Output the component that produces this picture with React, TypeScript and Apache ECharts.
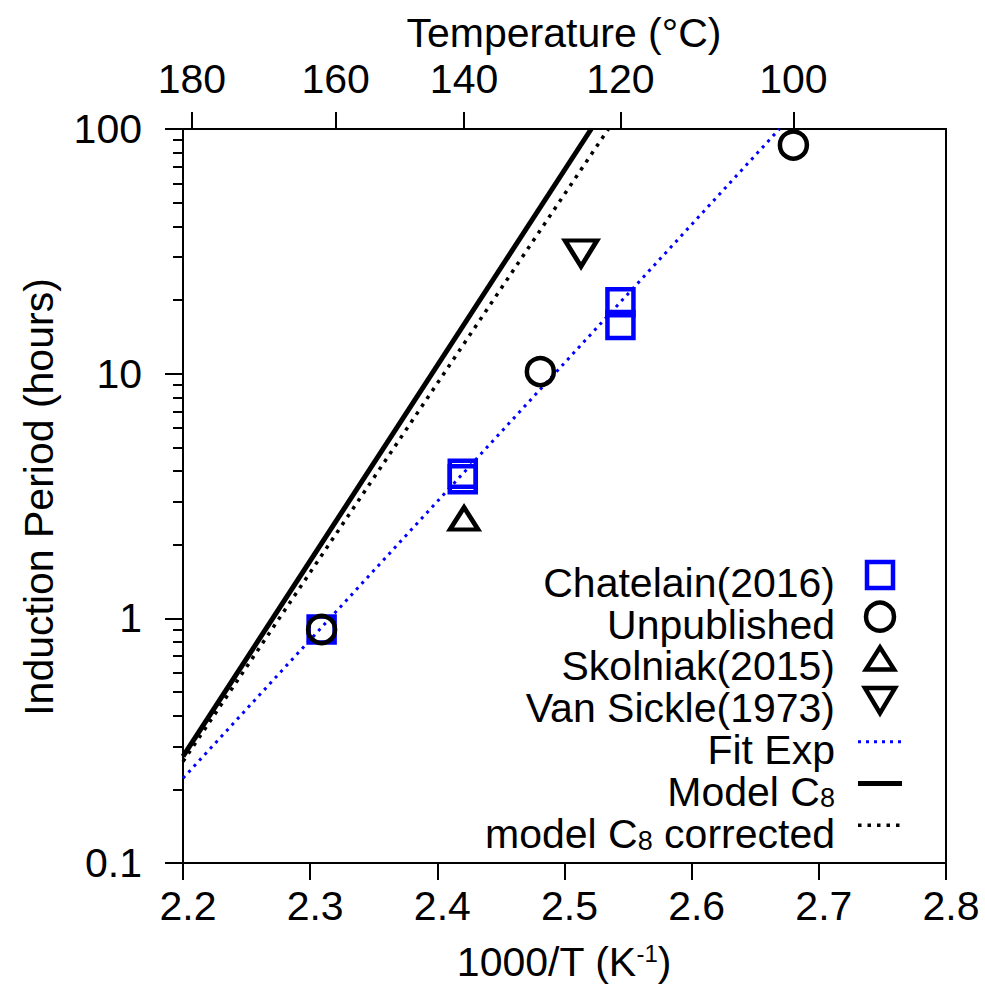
import React, { useEffect, useRef } from "react";
import * as echarts from "echarts";

const FONT = '"Liberation Sans", Arial, Helvetica, sans-serif';
const FS = 41;
const BLUE = "#0000ff";
const BLACK = "#000000";

// Bottom axis: 1000/T in K^-1
const xMin = 2.2;
const xMax = 2.8;
const xStep = 0.1;

// Top axis: temperature in °C and where each tick sits on the 1000/T scale
const tempLabels = [180, 160, 140, 120, 100];
const tempTickPositions = [2.207, 2.32, 2.421, 2.544, 2.68];

// Log axis: decades and the 2..9 minor ticks between them
const yMin = 0.1;
const yMax = 100;
const minorYTicks = [
  0.2, 0.3, 0.4, 0.5, 0.6, 0.7, 0.8, 0.9,
  2, 3, 4, 5, 6, 7, 8, 9,
  20, 30, 40, 50, 60, 70, 80, 90,
];

// Measured induction periods [1000/T, hours]
const chatelain2016 = [
  [2.309, 0.9],
  [2.42, 3.9],
  [2.42, 3.7],
  [2.544, 19.6],
  [2.544, 15.8],
];
const unpublished = [
  [2.309, 0.9],
  [2.481, 10.2],
  [2.68, 86],
];
const skolniak2015 = [[2.421, 2.56]];
const vanSickle1973 = [[2.513, 31]];

// Fitted and modelled Arrhenius lines (end points)
const fitExp = [
  [2.2, 0.222],
  [2.669, 100],
];
const modelC8 = [
  [2.2, 0.273],
  [2.521, 100],
];
const modelC8Corrected = [
  [2.2, 0.26],
  [2.5345, 100],
];

const legendLabels = [
  "Chatelain(2016)",
  "Unpublished",
  "Skolniak(2015)",
  "Van Sickle(1973)",
  "Fit Exp",
  "{t|Model C}{sub|8}",
  "{t|model C}{sub|8}{t| corrected}",
];

function legendGraphics() {
  const textRight = 835;
  const symX = 880;
  const rowTop = 575;
  const rowGap = 41.7;
  const rich = {
    t: { fontSize: FS, lineHeight: 40, fontFamily: FONT, fill: BLACK },
    sub: { fontSize: 27, lineHeight: 20, fontFamily: FONT, fill: BLACK, padding: [13, 0, 0, 0] },
  };
  const items: any[] = [];
  legendLabels.forEach((label, i) => {
    const cy = rowTop + rowGap * i;
    items.push({
      type: "text",
      x: textRight,
      y: cy + 8 + (i === 6 ? 1 : 0),
      style: {
        text: label.includes("{") ? label : `{t|${label}}`,
        rich,
        align: "right",
        verticalAlign: "middle",
      },
    });
    let sym: any;
    if (i === 0) {
      sym = {
        type: "rect",
        shape: { x: symX - 13, y: cy - 13, width: 26, height: 26 },
        style: { fill: "none", stroke: BLUE, lineWidth: 4.5 },
      };
    } else if (i === 1) {
      sym = {
        type: "circle",
        shape: { cx: symX, cy, r: 14 },
        style: { fill: "none", stroke: BLACK, lineWidth: 4.5 },
      };
    } else if (i === 2) {
      sym = {
        type: "polygon",
        shape: { points: [[symX, cy - 11], [symX + 14, cy + 11], [symX - 14, cy + 11]] },
        style: { fill: "none", stroke: BLACK, lineWidth: 4.5 },
      };
    } else if (i === 3) {
      sym = {
        type: "polygon",
        shape: { points: [[symX - 15, cy - 12], [symX + 15, cy - 12], [symX, cy + 13]] },
        style: { fill: "none", stroke: BLACK, lineWidth: 4.5 },
      };
    } else {
      const styles = [
        { stroke: BLUE, lineWidth: 3, lineDash: [3, 5] },
        { stroke: BLACK, lineWidth: 5 },
        { stroke: BLACK, lineWidth: 3.5, lineDash: [3.5, 6] },
      ];
      sym = {
        type: "line",
        shape: { x1: 858, y1: cy, x2: 902, y2: cy },
        style: styles[i - 4],
      };
    }
    items.push(sym);
  });
  return items;
}

export default function App() {
  const ref = useRef<HTMLDivElement>(null);

  useEffect(() => {
    if (!ref.current) return;
    const chart = echarts.init(ref.current, null, { renderer: "svg" });

    const labelStyle = { fontSize: FS, fontFamily: FONT, color: BLACK };
    const hollow = (color: string) => ({
      color: "transparent",
      borderColor: color,
      borderWidth: 4.5,
      opacity: 1,
    });

    chart.setOption({
      animation: false,
      backgroundColor: "#ffffff",
      grid: {
        left: 183,
        right: 39,
        top: 129,
        bottom: 121,
        show: true,
        borderColor: BLACK,
        borderWidth: 2,
        backgroundColor: "transparent",
        containLabel: false,
      },
      xAxis: [
        {
          type: "value",
          position: "bottom",
          min: xMin,
          max: xMax,
          interval: xStep,
          axisLine: { show: true, lineStyle: { color: BLACK, width: 2 } },
          axisTick: { show: true, inside: false, length: 17, lineStyle: { color: BLACK, width: 2 } },
          axisLabel: {
            ...labelStyle,
            margin: 22,
            padding: [0, 0, 0, 10],
            formatter: (v: number) => v.toFixed(1),
          },
          splitLine: { show: false },
        },
        {
          type: "value",
          position: "top",
          min: xMin,
          max: xMax,
          axisLine: { show: true, lineStyle: { color: BLACK, width: 2 } },
          axisTick: {
            show: true,
            inside: false,
            length: 17,
            customValues: tempTickPositions,
            lineStyle: { color: BLACK, width: 2 },
          },
          axisLabel: {
            ...labelStyle,
            margin: 30,
            customValues: tempTickPositions,
            formatter: (v: number) => {
              const i = tempTickPositions.findIndex((p) => Math.abs(p - v) < 1e-6);
              return i >= 0 ? String(tempLabels[i]) : "";
            },
          },
          splitLine: { show: false },
        },
      ],
      yAxis: [
        {
          type: "log",
          logBase: 10,
          position: "left",
          min: yMin,
          max: yMax,
          axisLine: { show: true, lineStyle: { color: BLACK, width: 2 } },
          axisTick: { show: true, inside: false, length: 18, lineStyle: { color: BLACK, width: 2 } },
          axisLabel: {
            ...labelStyle,
            margin: 41,
            padding: [16, 0, 0, 0],
            formatter: (v: number) => (v < 1 ? v.toFixed(1) : String(Math.round(v))),
          },
          splitLine: { show: false },
        },
        {
          type: "log",
          logBase: 10,
          position: "left",
          min: yMin,
          max: yMax,
          axisLine: { show: false },
          axisTick: {
            show: true,
            inside: false,
            length: 10,
            customValues: minorYTicks,
            lineStyle: { color: BLACK, width: 2 },
          },
          axisLabel: { show: false },
          splitLine: { show: false },
        },
      ],
      graphic: [
        {
          type: "text",
          x: 564,
          y: 33,
          style: {
            text: "Temperature (°C)",
            fontSize: FS,
            fontFamily: FONT,
            fill: BLACK,
            align: "center",
            verticalAlign: "middle",
          },
        },
        {
          type: "text",
          x: 564,
          y: 962,
          style: {
            text: "{t|1000/T (K}{sup|-1}{t|)}",
            rich: {
              t: { fontSize: FS, lineHeight: 38, fontFamily: FONT, fill: BLACK },
              sup: { fontSize: 24, lineHeight: 20, fontFamily: FONT, fill: BLACK, padding: [0, 0, 17, 0] },
            },
            align: "center",
            verticalAlign: "middle",
          },
        },
        {
          type: "text",
          x: 39,
          y: 497,
          rotation: Math.PI / 2,
          style: {
            text: "Induction Period (hours)",
            fontSize: FS,
            fontFamily: FONT,
            fill: BLACK,
            align: "center",
            verticalAlign: "middle",
          },
        },
        ...legendGraphics(),
      ],
      series: [
        {
          name: "Fit Exp",
          type: "line",
          data: fitExp,
          showSymbol: false,
          symbol: "none",
          lineStyle: { color: BLUE, width: 3, type: [3, 5] },
          z: 2,
        },
        {
          name: "Model C8",
          type: "line",
          data: modelC8,
          showSymbol: false,
          symbol: "none",
          lineStyle: { color: BLACK, width: 5 },
          z: 2,
        },
        {
          name: "model C8 corrected",
          type: "line",
          data: modelC8Corrected,
          showSymbol: false,
          symbol: "none",
          lineStyle: { color: BLACK, width: 3.5, type: [3.5, 6] },
          z: 2,
        },
        {
          name: "Chatelain(2016)",
          type: "scatter",
          data: chatelain2016,
          symbol: "rect",
          symbolSize: 26,
          itemStyle: hollow(BLUE),
          z: 3,
        },
        {
          name: "Unpublished",
          type: "scatter",
          data: unpublished,
          symbol: "circle",
          symbolSize: 27,
          itemStyle: hollow(BLACK),
          z: 4,
        },
        {
          name: "Skolniak(2015)",
          type: "scatter",
          data: skolniak2015,
          symbol: "triangle",
          symbolSize: [28, 22],
          itemStyle: hollow(BLACK),
          z: 4,
        },
        {
          name: "Van Sickle(1973)",
          type: "scatter",
          data: vanSickle1973,
          symbol: "triangle",
          symbolRotate: 180,
          symbolSize: [32, 26],
          itemStyle: hollow(BLACK),
          z: 4,
        },
      ],
    });

    return () => chart.dispose();
  }, []);

  return (
    <div
      ref={ref}
      style={{ position: "absolute", left: 0, top: 0, width: 985, height: 984 }}
    />
  );
}
